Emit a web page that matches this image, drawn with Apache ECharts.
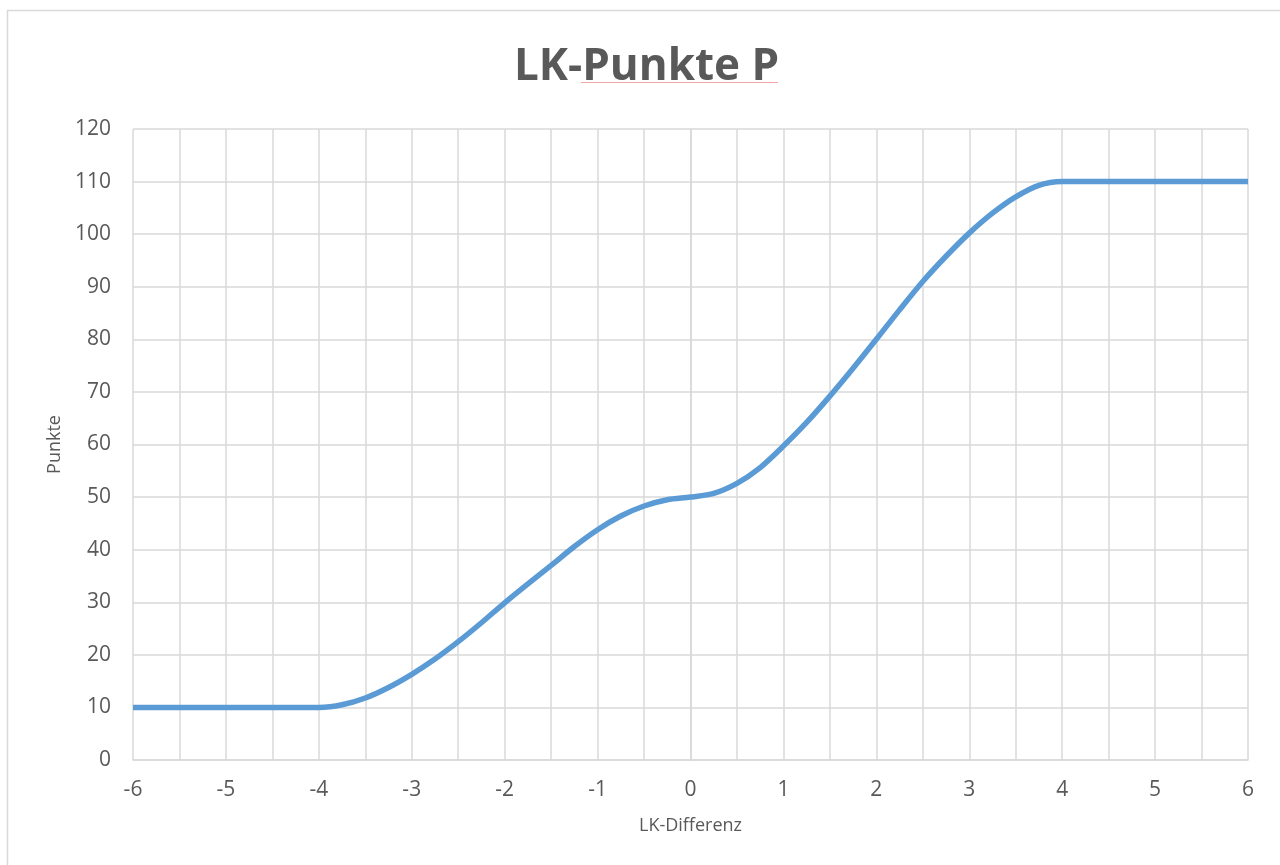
<!DOCTYPE html>
<html>
<head>
<meta charset="utf-8">
<script src="https://cdn.jsdelivr.net/npm/echarts@6/dist/echarts.min.js"></script>
<style>
html,body{margin:0;padding:0;background:#fff;}
#chart{width:1280px;height:865px;}
</style>
</head>
<body>
<div id="chart"></div>
<script>
// Data
const xValues = [-6, -5.5, -5, -4.5, -4, -3.75, -3.5, -3.25, -3, -2.75, -2.5, -2.25, -2, -1.75, -1.5, -1.25, -1, -0.75, -0.5, -0.25, 0, 0.25, 0.5, 0.75, 1, 1.25, 1.5, 1.75, 2, 2.25, 2.5, 2.75, 3, 3.25, 3.5, 3.75, 4, 4.5, 5, 5.5, 6];
const punkte = [10, 10, 10, 10, 10, 10.5, 11.8, 13.8, 16.3, 19.2, 22.5, 26.1, 29.9, 33.5, 37.0, 40.6, 43.8, 46.4, 48.3, 49.5, 50, 50.7, 52.6, 55.6, 59.7, 64.2, 69.2, 74.5, 80, 85.6, 91, 95.8, 100.2, 104, 107.1, 109.3, 110, 110, 110, 110, 110];
const titleText = 'LK-Punkte P';
const xName = 'LK-Differenz';
const yName = 'Punkte';

const seriesData = xValues.map((x, i) => [x, punkte[i]]);
const font = '"Open Sans", "Liberation Sans", sans-serif';
const gridColor = '#D9D9D9';
const textColor = '#595959';

const chart = echarts.init(document.getElementById('chart'), null, {renderer: 'canvas'});
chart.setOption({
  backgroundColor: '#fff',
  animation: false,
  title: {
    text: titleText,
    left: 509,
    top: 40,
    textStyle: {fontFamily: font, fontSize: 44, fontWeight: 'bold', color: textColor}
  },
  graphic: [
    {type: 'rect', shape: {x: 7.5, y: 10.5, width: 1400, height: 1000}, style: {fill: 'none', stroke: gridColor, lineWidth: 1.5}, silent: true},
    {type: 'line', shape: {x1: 581, y1: 82.5, x2: 778, y2: 82.5}, style: {stroke: '#F4A9A9', lineWidth: 1}, silent: true}
  ],
  grid: {left: 133, right: 32, top: 129, bottom: 105, containLabel: false},
  xAxis: {
    type: 'value', min: -6, max: 6, interval: 1,
    name: xName, nameLocation: 'middle', nameGap: 57,
    nameTextStyle: {fontFamily: font, fontSize: 18, color: textColor},
    axisLine: {show: true, lineStyle: {color: gridColor, width: 1.5}},
    axisTick: {show: false},
    axisLabel: {fontFamily: font, fontSize: 21, color: textColor, margin: 20},
    splitLine: {show: true, lineStyle: {color: gridColor, width: 1.5}},
    minorTick: {show: false, splitNumber: 2},
    minorSplitLine: {show: true, lineStyle: {color: gridColor, width: 1.5}}
  },
  yAxis: {
    type: 'value', min: 0, max: 120, interval: 10,
    name: yName, nameLocation: 'middle', nameGap: 68,
    nameTextStyle: {fontFamily: font, fontSize: 18, color: textColor},
    axisLine: {show: true, lineStyle: {color: gridColor, width: 1.5}},
    axisTick: {show: false},
    axisLabel: {fontFamily: font, fontSize: 21, color: textColor, margin: 22},
    splitLine: {show: true, lineStyle: {color: gridColor, width: 1.5}}
  },
  series: [{
    type: 'line',
    data: seriesData,
    smooth: 0.3,
    showSymbol: false,
    lineStyle: {color: '#5B9BD5', width: 5.5, cap: 'butt'},
    itemStyle: {color: '#5B9BD5'}
  }]
});
</script>
</body>
</html>
